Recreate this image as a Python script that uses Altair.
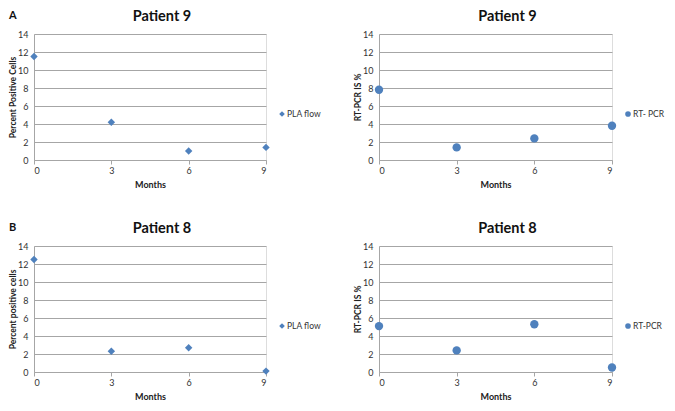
import altair as alt
import pandas as pd

months = [0, 3, 6, 9]
p9_pla = [11.5, 4.2, 1.0, 1.4]
p9_pcr = [7.8, 1.4, 2.4, 3.8]
p8_pla = [12.5, 2.3, 2.7, 0.1]
p8_pcr = [5.1, 2.4, 5.3, 0.5]

titles = ["Patient 9", "Patient 9", "Patient 8", "Patient 8"]
y_titles = ["Percent Positive Cells", "RT-PCR IS %", "Percent positive cells", "RT-PCR IS %"]
legend_labels = ["PLA flow", "RT- PCR", "PLA flow", "RT-PCR"]
letters = ["A", "", "B", ""]

BLUE = "#4F81BD"
GRID = "#a6a6a6"
FONT = "Lato"
H = 126


def panel(values, title, ytitle, leg, letter, shape, size, width):
    df = pd.DataFrame({"Months": months, "Value": values})
    one = pd.DataFrame({"k": [0]})
    pts = alt.Chart(df).mark_point(filled=True, shape=shape, size=size, color=BLUE, opacity=1).encode(
        x=alt.X("Months:Q", scale=alt.Scale(domain=[0, 9], nice=False),
                axis=alt.Axis(values=months, grid=False, ticks=True, tickSize=4, tickColor=GRID,
                              domainColor=GRID, labelPadding=2, labelFontSize=9, labelColor="#333",
                              labelFont=FONT, title="Months", titleFont=FONT, titleFontSize=9,
                              titleFontWeight="bold", titleColor="#222", titlePadding=5)),
        y=alt.Y("Value:Q", scale=alt.Scale(domain=[0, 14], nice=False),
                axis=alt.Axis(values=list(range(0, 15, 2)), grid=True, gridColor=GRID, ticks=False,
                              domainColor=GRID, labelPadding=6, labelFontSize=9, labelColor="#333",
                              labelFont=FONT, title=ytitle, titleFont=FONT, titleFontSize=8.5,
                              titleFontWeight="bold", titleColor="#222", titlePadding=0)),
    )
    ttl = alt.Chart(one).mark_text(text=title, font=FONT, fontSize=14.5, fontWeight="bold",
                                   color="#111", align="center", baseline="alphabetic").encode(
        x=alt.value(width / 2 + 12), y=alt.value(-13))
    lsym = alt.Chart(one).mark_point(filled=True, shape=shape, size=32, color=BLUE, opacity=1).encode(
        x=alt.value(width + 16), y=alt.value(80))
    ltxt = alt.Chart(one).mark_text(text=leg, font=FONT, fontSize=8.5, color="#333",
                                    align="left", baseline="middle").encode(
        x=alt.value(width + 21), y=alt.value(80))
    layers = [pts, ttl, lsym, ltxt]
    if letter:
        lt = alt.Chart(one).mark_text(text=letter, font=FONT, fontSize=11, fontWeight="bold",
                                      color="#111", align="left", baseline="alphabetic").encode(
            x=alt.value(-25), y=alt.value(-15))
        layers.append(lt)
    return alt.layer(*layers).properties(width=width, height=H)


a1 = panel(p9_pla, titles[0], y_titles[0], legend_labels[0], letters[0], "diamond", 55, 232)
a2 = panel(p9_pcr, titles[1], y_titles[1], legend_labels[1], letters[1], "circle", 70, 233)
b1 = panel(p8_pla, titles[2], y_titles[2], legend_labels[2], letters[2], "diamond", 55, 232)
b2 = panel(p8_pcr, titles[3], y_titles[3], legend_labels[3], letters[3], "circle", 70, 233)

chart = alt.concat(a1, a2, b1, b2, columns=2, spacing={"row": 86, "column": 113},
                   bounds="flush").properties(
    padding={"left": 0, "top": 0, "right": 0, "bottom": 0}
).configure_view(stroke=None).configure(background="white")

chart.save("out.html", embed_options={"renderer": "svg", "actions": False})
